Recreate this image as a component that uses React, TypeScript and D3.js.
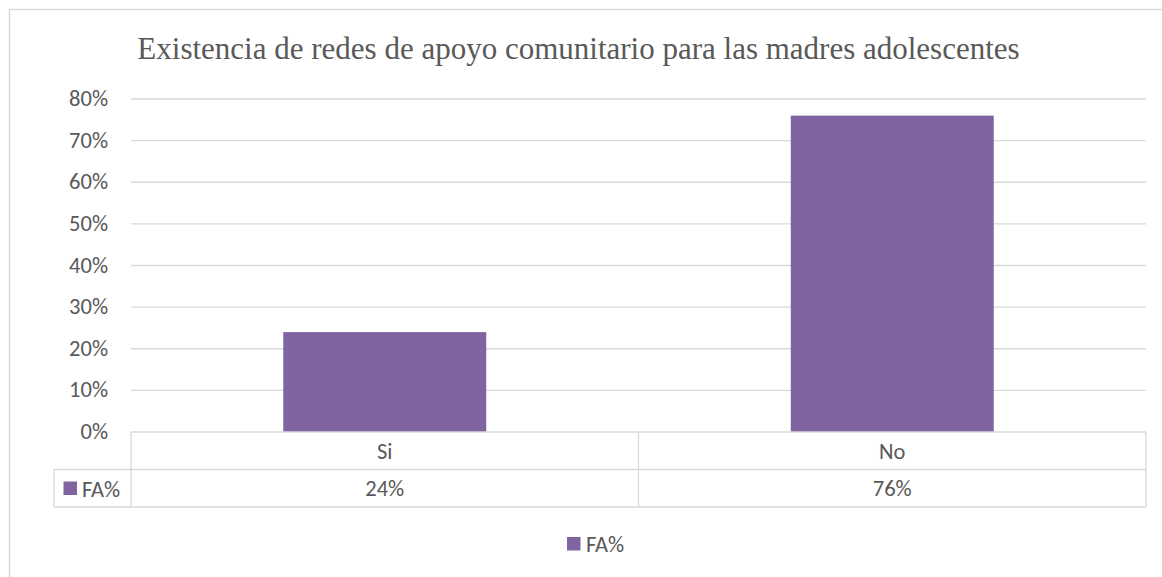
import React from "react";
import * as d3 from "d3";

const categories = ["Si", "No"];
const values = [0.24, 0.76];
const valueLabels = ["24%", "76%"];
const ticks = [0, 0.1, 0.2, 0.3, 0.4, 0.5, 0.6, 0.7, 0.8];
const seriesName = "FA%";
const title = "Existencia de redes de apoyo comunitario para las madres adolescentes";

const W = 1162, H = 577;
const left = 131, right = 1146, top = 99, bottom = 432;
const rowH = 37.5;
const legendCellLeft = 54;
const grid = "#d9d9d9";
const barColor = "#8064a2";
const textColor = "#595959";
const sans = "Carlito, Calibri, 'Open Sans', 'Liberation Sans', sans-serif";
const fs = 22.5;

export default function App() {
  const y = d3.scaleLinear().domain([0, 0.8]).range([bottom, top]);
  const x = d3.scaleBand().domain(categories).range([left, right]).paddingInner(0).paddingOuter(0);
  const bw = x.bandwidth() * 0.4;
  const fmt = d3.format(".0%");
  return (
    <svg width={W} height={H} style={{ position: "absolute", left: 0, top: 0 }}>
      <rect x={0} y={0} width={W} height={H} fill="#fff" />
      <rect x={9.5} y={9.5} width={W + 10} height={H + 10} fill="none" stroke={grid} strokeWidth={1.5} />
      <text x={578.5} y={59} textAnchor="middle" fontFamily="'Liberation Serif', 'Times New Roman', serif" fontSize={31} fill={textColor}>
        {title}
      </text>
      {ticks.map((t) => (
        <g key={t}>
          {t > 0 && <line x1={left} x2={right} y1={y(t)} y2={y(t)} stroke={grid} strokeWidth={1.3} />}
          <text x={108} y={y(t) + 7} textAnchor="end" fontFamily={sans} fontSize={fs} fill={textColor}>
            {fmt(t)}
          </text>
        </g>
      ))}
      {categories.map((c, i) => (
        <rect key={c} x={x(c)! + (x.bandwidth() - bw) / 2} y={y(values[i])} width={bw} height={bottom - y(values[i])} fill={barColor} />
      ))}
      {/* data table */}
      <g stroke={grid} strokeWidth={1.3} fill="none">
        <line x1={left} x2={right} y1={bottom} y2={bottom} />
        <line x1={legendCellLeft} x2={right} y1={bottom + rowH} y2={bottom + rowH} />
        <line x1={legendCellLeft} x2={right} y1={bottom + 2 * rowH} y2={bottom + 2 * rowH} />
        <line x1={legendCellLeft} x2={legendCellLeft} y1={bottom + rowH} y2={bottom + 2 * rowH} />
        <line x1={left} x2={left} y1={bottom} y2={bottom + 2 * rowH} />
        {categories.map((c) => (
          <line key={c} x1={x(c)! + x.bandwidth()} x2={x(c)! + x.bandwidth()} y1={bottom} y2={bottom + 2 * rowH} />
        ))}
      </g>
      {categories.map((c, i) => (
        <g key={c}>
          <text x={x(c)! + x.bandwidth() / 2} y={bottom + rowH / 2 + 8} textAnchor="middle" fontFamily={sans} fontSize={fs} fill={textColor}>
            {c}
          </text>
          <text x={x(c)! + x.bandwidth() / 2} y={bottom + rowH * 1.5 + 8} textAnchor="middle" fontFamily={sans} fontSize={fs} fill={textColor}>
            {valueLabels[i]}
          </text>
        </g>
      ))}
      <rect x={63.5} y={481.5} width={13.5} height={13.5} fill={barColor} />
      <text x={82} y={497} fontFamily={sans} fontSize={fs} fill={textColor}>
        {seriesName}
      </text>
      {/* legend */}
      <rect x={567} y={537} width={13.5} height={13.5} fill={barColor} />
      <text x={586} y={552} fontFamily={sans} fontSize={fs} fill={textColor}>
        {seriesName}
      </text>
    </svg>
  );
}
